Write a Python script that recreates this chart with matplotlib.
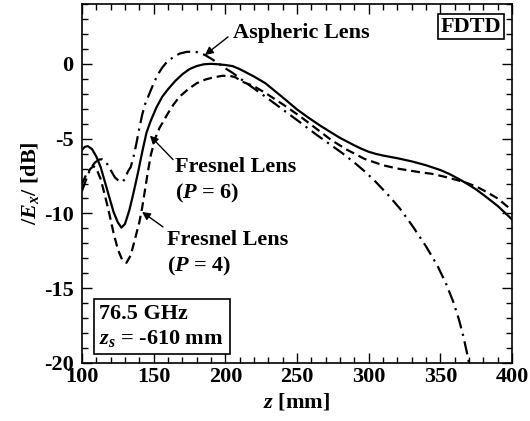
import numpy as np
import matplotlib
matplotlib.use("Agg")
import matplotlib.pyplot as plt

plt.rcParams['font.family'] = ['Liberation Serif', 'DejaVu Serif']
plt.rcParams['font.weight'] = 'bold'
plt.rcParams['axes.labelweight'] = 'bold'
plt.rcParams['mathtext.fontset'] = 'custom'
plt.rcParams['mathtext.rm'] = 'Liberation Serif:bold'
plt.rcParams['mathtext.it'] = 'Liberation Serif:bold:italic'
plt.rcParams['mathtext.bf'] = 'Liberation Serif:bold'
plt.rcParams['axes.unicode_minus'] = False

# Fresnel lens, P = 6 (solid)
z_p6 = [100, 102, 104, 107, 110, 113, 116, 119, 122, 125, 127.5, 130, 133, 136, 139,
        142, 145, 148, 152, 156, 160, 165, 170, 175, 180, 185, 190, 195, 200, 205,
        210, 215, 220, 228, 235, 242, 250, 258, 266, 274, 280, 285, 290, 295, 300,
        305, 310, 315, 320, 330, 340, 350, 356, 362, 368, 375, 382, 390, 395, 400]
e_p6 = [-5.75, -5.55, -5.5, -5.7, -6.2, -6.9, -7.9, -8.9, -9.9, -10.6, -10.95, -10.7,
        -9.8, -8.6, -7.3, -5.9, -4.6, -3.8, -2.9, -2.2, -1.7, -1.15, -0.7, -0.35,
        -0.15, -0.03, 0.0, -0.03, -0.08, -0.15, -0.35, -0.6, -0.85, -1.3, -1.85,
        -2.4, -3.05, -3.6, -4.12, -4.6, -4.95, -5.2, -5.45, -5.68, -5.88, -6.02,
        -6.13, -6.22, -6.31, -6.52, -6.78, -7.1, -7.35, -7.65, -7.98, -8.4, -8.9,
        -9.5, -9.95, -10.4]

# Fresnel lens, P = 4 (dashed)
z_p4 = [100, 103, 106, 108, 110, 113, 116, 119, 122, 125, 128, 131, 134, 137, 140,
        142, 144, 146, 148, 151, 154, 157, 160, 164, 168, 174, 180, 186, 192, 198,
        203, 207, 212, 220, 228, 240, 252, 263, 274, 285, 297, 310, 320, 336, 344,
        353, 362, 368, 375, 382, 390, 400]
e_p4 = [-8.0, -7.4, -7.0, -6.85, -7.0, -7.7, -8.8, -10.0, -11.3, -12.4, -13.1, -13.3,
        -12.8, -11.7, -10.6, -9.6, -8.4, -7.2, -6.1, -5.0, -4.3, -3.8, -3.3, -2.7,
        -2.2, -1.7, -1.3, -1.05, -0.9, -0.8, -0.8, -0.9, -1.2, -1.5, -1.95, -2.7,
        -3.5, -4.3, -5.1, -5.75, -6.35, -6.78, -7.0, -7.25, -7.35, -7.55, -7.78,
        -7.95, -8.2, -8.55, -9.0, -9.8]

# Aspheric lens (dash-dot)
z_asp = [100, 103, 106, 109, 112, 114, 117, 120, 123, 126, 128, 130, 132, 134, 136,
         138, 140, 142, 144, 147, 150, 153, 156, 159, 163, 168, 173, 178, 182, 186,
         190, 195, 200, 205, 212, 220, 228, 240, 252, 263, 274, 282, 290, 298, 305,
         313, 322, 331, 340, 348, 354, 359, 363, 366, 369, 371]
e_asp = [-8.5, -7.7, -7.0, -6.6, -6.4, -6.38, -6.6, -7.1, -7.6, -7.85, -7.9, -7.7,
         -7.2, -6.9, -6.2, -5.3, -4.3, -3.4, -2.7, -2.0, -1.3, -0.7, -0.25, 0.1, 0.4,
         0.68, 0.8, 0.82, 0.75, 0.58, 0.35, 0.05, -0.3, -0.6, -1.1, -1.65, -2.2,
         -3.05, -3.9, -4.7, -5.45, -6.0, -6.6, -7.25, -7.9, -8.7, -9.7, -10.9,
         -12.2, -13.5, -14.7, -15.9, -17.1, -18.2, -19.5, -20.5]

fig = plt.figure(figsize=(5.30, 4.21), dpi=100)
ax = fig.add_axes([82 / 530, 1 - 363 / 421, 430 / 530, 359 / 421])

ax.plot(z_p6, e_p6, color='black', lw=1.6, ls='-')
ax.plot(z_p4, e_p4, color='black', lw=1.6, ls=(0, (4, 2.2)))
ax.plot(z_asp, e_asp, color='black', lw=1.6, ls=(0, (6, 2.5, 1, 2.5)))

ax.set_xlim(100, 400)
ax.set_ylim(-20, 4)
ax.set_xticks(np.arange(100, 401, 50))
ax.set_xticks(np.arange(100, 401, 10), minor=True)
ax.set_yticks(np.arange(-20, 1, 5))
ax.set_yticks(np.arange(-20, 5, 1), minor=True)
ax.tick_params(which='both', direction='in', top=True, right=True, labelsize=16)
ax.tick_params(which='major', length=7, width=1)
ax.tick_params(which='minor', length=4, width=1)
ax.tick_params(axis='x', pad=3)
ax.tick_params(axis='y', pad=6)
for s in ax.spines.values():
    s.set_linewidth(1.2)

ax.set_xlabel('$z$ [mm]', fontsize=16, labelpad=3)
ax.set_ylabel('/$E_x$/ [dB]', fontsize=16, labelpad=2)

fs = 16
arrow = dict(arrowstyle='-|>', color='black', lw=1, mutation_scale=12,
             shrinkA=0, shrinkB=0)

ax.annotate('', xy=(185.8, 0.59), xytext=(201.9, 1.8), arrowprops=arrow)
ax.text(205.3, 1.76, 'Aspheric Lens', fontsize=fs, ha='left', va='baseline')

ax.annotate('', xy=(147.4, -4.8), xytext=(163.5, -6.4), arrowprops=arrow)
ax.text(164.9, -8.97, 'Fresnel Lens\n($P$ = 6)', fontsize=fs, ha='left',
        va='baseline', linespacing=1.3)

ax.annotate('', xy=(141.9, -9.9), xytext=(156.5, -10.9), arrowprops=arrow)
ax.text(159.3, -13.91, 'Fresnel Lens\n($P$ = 4)', fontsize=fs, ha='left',
        va='baseline', linespacing=1.3)

ax.text(0.905, 0.965, 'FDTD', transform=ax.transAxes, fontsize=fs,
        ha='center', va='top',
        bbox=dict(boxstyle='square,pad=0.12', fc='white', ec='black', lw=1.2))
ax.text(0.04, 0.04, '76.5 GHz\n$z_s$ = -610 mm', transform=ax.transAxes,
        fontsize=fs, ha='left', va='bottom', linespacing=1.2,
        bbox=dict(boxstyle='square,pad=0.25', fc='white', ec='black', lw=1.2))

fig.savefig('out.png', dpi=100)
